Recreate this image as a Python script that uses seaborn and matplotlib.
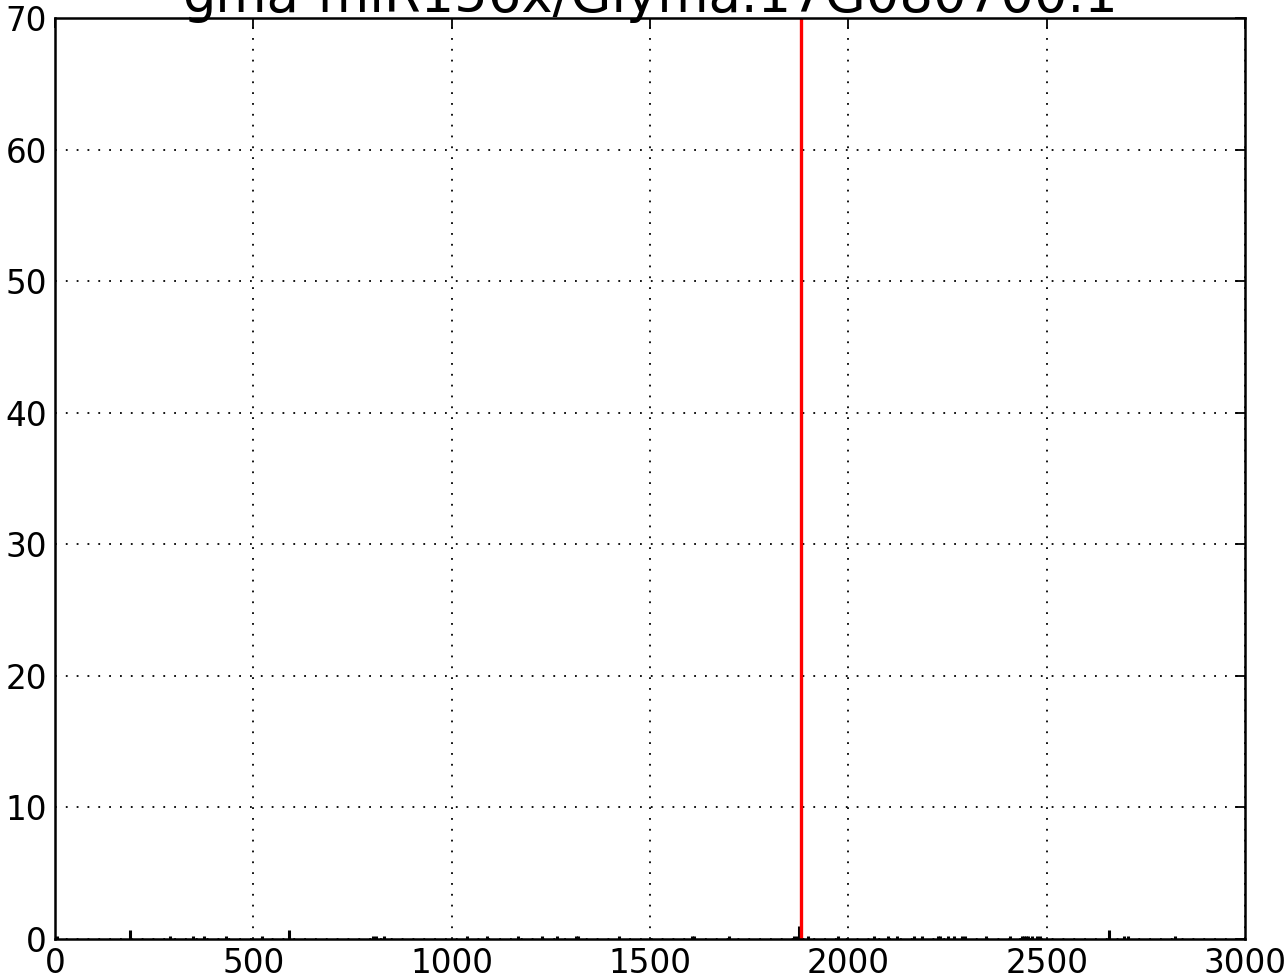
import matplotlib
matplotlib.use("Agg")
import matplotlib.pyplot as plt
import seaborn as sns
import numpy as np

title = "gma-miR156x/Glyma.17G080700.1"

# degradome read positions (x) and abundances (y)
read_pos = [5, 189, 290, 349, 376, 430, 523, 590, 802, 809, 829, 1038, 1088,
            1168, 1227, 1266, 1313, 1318, 1423, 1607, 1612, 1700, 1864, 1870,
            1876, 1899, 1975, 2065, 2101, 2122, 2166, 2185, 2225, 2230, 2252,
            2266, 2287, 2293, 2347, 2407, 2437, 2443, 2449, 2454, 2464, 2475,
            2483, 2658, 2696, 2704, 2823]
read_val = [0.25, 0.7, 0.25, 0.25, 0.25, 0.25, 0.25, 0.7, 0.25, 0.25, 0.25, 0.25, 0.25,
            0.25, 0.25, 0.25, 0.25, 0.25, 0.25, 0.25, 0.25, 0.25, 0.25, 0.25,
            1.0, 0.25, 0.25, 0.25, 0.25, 0.25, 0.25, 0.25, 0.25, 0.25, 0.25,
            0.25, 0.25, 0.25, 0.25, 0.25, 0.25, 0.25, 0.25, 0.25, 0.25, 0.25,
            0.25, 0.7, 0.25, 0.25, 0.25]

cleave_pos = [1881]
cleave_val = [80]

x_ticks = [0, 500, 1000, 1500, 2000, 2500, 3000]
y_ticks = [0, 10, 20, 30, 40, 50, 60, 70]

sns.set_style("white")
plt.rcParams['font.family'] = ['DejaVu Sans']
plt.rcParams['text.color'] = 'black'
plt.rcParams['axes.labelcolor'] = 'black'

fig = plt.figure(figsize=(12.84, 9.8), dpi=100)
ax = fig.add_axes([55/1284, 1 - 939/980, 1190/1284, 921/980])

ax.vlines(read_pos, 0, read_val, colors="black", linewidth=2.2)
ax.vlines(cleave_pos, 0, cleave_val, colors="red", linewidth=2.4)

ax.set_xlim(0, 3000)
ax.set_ylim(0, 70)
ax.set_xticks(x_ticks)
ax.set_yticks(y_ticks)
ax.set_xticklabels([str(t) for t in x_ticks])
ax.set_yticklabels([str(t) for t in y_ticks])

ax.grid(True, color="black", linestyle=(0, (1, 5)), linewidth=1.3)
ax.tick_params(direction="in", length=7, width=1.3, top=True, right=True,
               labelsize=23.5, pad=6, colors="black", labelcolor="black")
for s in ax.spines.values():
    s.set_visible(True)
    s.set_color("black")
    s.set_linewidth(1.8)

ax.set_title(title, fontsize=38, pad=4, color="black")

fig.savefig("out.png", dpi=100)
